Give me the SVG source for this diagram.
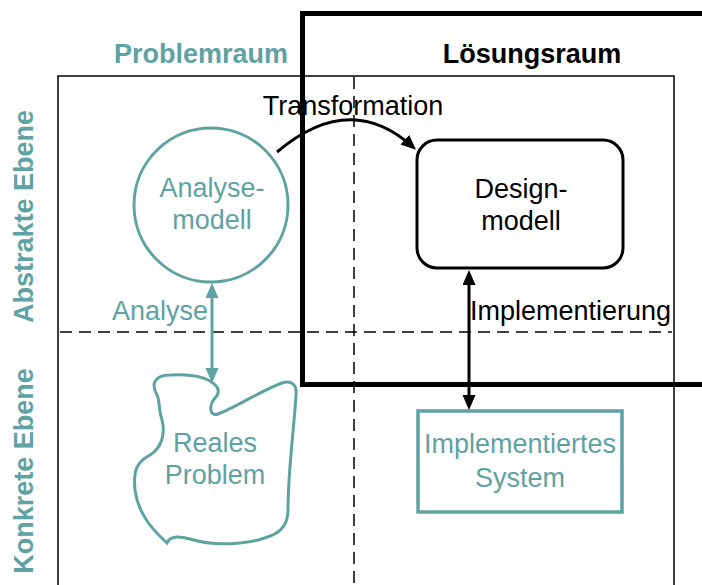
<svg xmlns="http://www.w3.org/2000/svg" width="702" height="585" viewBox="0 0 702 585">
<defs>
<style>
.t{font-family:"Liberation Sans",Arial,sans-serif;font-size:27px;}
.b{font-weight:bold;}
.teal{fill:#5fa2a3;}
.blk{fill:#000;}
.dash{fill:none;stroke:#000;stroke-width:1.5;stroke-dasharray:12 7;}
</style>
<marker id="ab" markerUnits="userSpaceOnUse" markerWidth="16" markerHeight="14" refX="11" refY="6.5" orient="auto-start-reverse">
<path d="M0,0 L15,6.5 L0,13 z" fill="#000"/>
</marker>
<marker id="at" markerUnits="userSpaceOnUse" markerWidth="16" markerHeight="14" refX="11" refY="6.5" orient="auto-start-reverse">
<path d="M0,0 L15,6.5 L0,13 z" fill="#5fa2a3"/>
</marker>
</defs>
<rect width="702" height="585" fill="#fff"/>
<g id="frame">
<rect x="58" y="76" width="616" height="530" fill="none" stroke="#000" stroke-width="1.5"/>
<line class="dash" x1="354" y1="77" x2="354" y2="585"/>
<line class="dash" x1="60" y1="332" x2="672" y2="332"/>
</g>
<g id="labels">
<text class="t b teal" x="201" y="63" text-anchor="middle">Problemraum</text>
<text class="t b blk" x="532" y="63" text-anchor="middle">Lösungsraum</text>
<text class="t b teal" transform="translate(33,216.5) rotate(-90)" text-anchor="middle">Abstrakte Ebene</text>
<text class="t b teal" transform="translate(33,471) rotate(-90)" text-anchor="middle">Konkrete Ebene</text>
</g>
<g id="analysemodell">
<circle cx="211" cy="205" r="77" fill="none" stroke="#5fa2a3" stroke-width="3"/>
<text class="t teal" x="212" y="197" text-anchor="middle">Analyse-</text>
<text class="t teal" x="212" y="229" text-anchor="middle">modell</text>
</g>
<g id="designmodell">
<rect x="417" y="140" width="206" height="128" rx="20" fill="none" stroke="#000" stroke-width="3"/>
<text class="t blk" x="521" y="198" text-anchor="middle">Design-</text>
<text class="t blk" x="521" y="230" text-anchor="middle">modell</text>
</g>
<g id="realesproblem">
<path d="M157,395 C150,383 156,375 170,375 C185,374 200,375 210,381 C220,387 220,393 215,398 C209,405 209,417 218,414 C235,408 262,390 282,383 C292,380 297,385 296,395 C294,430 288,470 288,510 C288,528 278,535 258,540 C235,545 210,545 190,539 C178,536 170,536 167,543 C155,532 138,515 135,490 C133,470 137,462 150,455 C163,447 165,432 162,420 C158,408 160,400 157,395 Z" fill="none" stroke="#5fa2a3" stroke-width="3"/>
<text class="t teal" x="215" y="452" text-anchor="middle">Reales</text>
<text class="t teal" x="215" y="484" text-anchor="middle">Problem</text>
</g>
<g id="implementiertessystem">
<rect x="418" y="411" width="204" height="101" fill="none" stroke="#5fa2a3" stroke-width="3.5"/>
<text class="t teal" x="520" y="453" text-anchor="middle">Implementiertes</text>
<text class="t teal" x="520" y="487" text-anchor="middle">System</text>
</g>
<g id="connectors">
<path d="M277,152 Q350,90 413,147" fill="none" stroke="#000" stroke-width="3" marker-end="url(#ab)"/>
<line x1="212" y1="287" x2="212" y2="379" stroke="#5fa2a3" stroke-width="3" marker-start="url(#at)" marker-end="url(#at)"/>
<line x1="469" y1="274" x2="469" y2="406" stroke="#000" stroke-width="3" marker-start="url(#ab)" marker-end="url(#ab)"/>
<text class="t blk" x="353" y="115" text-anchor="middle">Transformation</text>
<text class="t teal" x="160" y="320" text-anchor="middle">Analyse</text>
<text class="t blk" x="470" y="320">Implementierung</text>
</g>
<g id="loesungsraum">
<rect x="302.5" y="13.5" width="420" height="371" fill="none" stroke="#000" stroke-width="5"/>
</g>
</svg>
